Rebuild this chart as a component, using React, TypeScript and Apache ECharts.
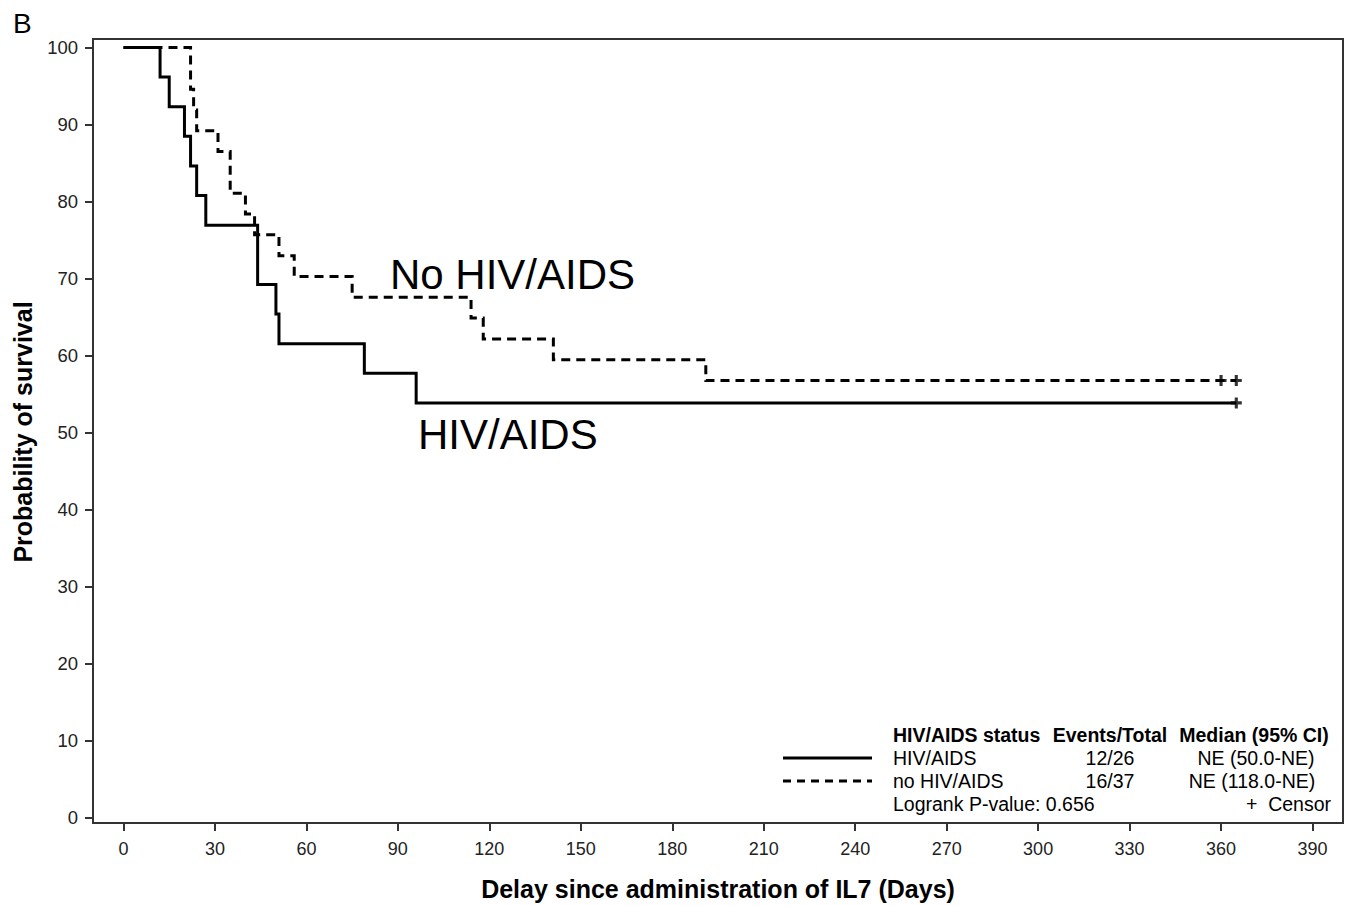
import React, { useEffect, useRef } from "react";
import * as echarts from "echarts";

// Kaplan-Meier survival curves
const hivTimes = [0, 12, 15, 20, 22, 24, 27, 44, 50, 51, 79, 96, 365];
const hivSurv = [100, 96.15, 92.31, 88.46, 84.62, 80.77, 76.92, 69.23, 65.38, 61.54, 57.69, 53.85, 53.85];
const noHivTimes = [0, 22, 23, 24, 31, 35, 40, 43, 51, 56, 75, 114, 118, 141, 191, 365];
const noHivSurv = [100, 94.59, 91.89, 89.19, 86.49, 81.08, 78.38, 75.68, 72.97, 70.27, 67.57, 64.86, 62.16, 59.46, 56.76, 56.76];
const hivCensor = [[365, 53.85]];
const noHivCensor = [[360, 56.76], [365, 56.76]];

const xTicks = [0, 30, 60, 90, 120, 150, 180, 210, 240, 270, 300, 330, 360, 390];
const yTicks = [0, 10, 20, 30, 40, 50, 60, 70, 80, 90, 100];

const legendHeader = ["HIV/AIDS status", "Events/Total", "Median (95% CI)"];
const legendRows = [
  ["HIV/AIDS", "12/26", "NE (50.0-NE)"],
  ["no HIV/AIDS", "16/37", "NE (118.0-NE)"],
];
const logrankText = "Logrank P-value: 0.656";
const censorText = "+  Censor";

const FONT = '"Liberation Sans", Arial, Helvetica, sans-serif';
const PLUS = "path://M-1.7,-6 L1.7,-6 L1.7,-1.7 L6,-1.7 L6,1.7 L1.7,1.7 L1.7,6 L-1.7,6 L-1.7,1.7 L-6,1.7 L-6,-1.7 L-1.7,-1.7 Z";

export default function App() {
  const ref = useRef<HTMLDivElement>(null);
  useEffect(() => {
    if (!ref.current) return;
    const chart = echarts.init(ref.current, null, { renderer: "svg" });
    const zip = (t: number[], s: number[]) => t.map((v, i) => [v, s[i]]);
    const legFont = (bold: boolean) => `${bold ? "bold " : ""}19.5px ${FONT}`;
    const txt = (text: string, x: number, y: number, bold: boolean, align = "left") => ({
      type: "text",
      x,
      y,
      style: { text, font: legFont(bold), fill: "#000", textAlign: align, verticalAlign: "middle" },
    });
    chart.setOption({
      animation: false,
      backgroundColor: "#fff",
      grid: {
        left: 93,
        top: 39,
        width: 1250,
        height: 784,
        show: true,
        borderColor: "#333",
        borderWidth: 2,
        containLabel: false,
      },
      xAxis: {
        type: "value",
        min: -10,
        max: 400,
        splitLine: { show: false },
        axisLine: { show: false, onZero: false },
        axisTick: { show: true, customValues: xTicks, length: 8, inside: false, lineStyle: { color: "#333", width: 2 } },
        axisLabel: { customValues: xTicks, margin: 17, fontSize: 18, color: "#222", fontFamily: FONT },
      },
      yAxis: {
        type: "value",
        min: -0.7,
        max: 101.1,
        splitLine: { show: false },
        axisLine: { show: false, onZero: false },
        axisTick: { show: true, customValues: yTicks, length: 8, inside: false, lineStyle: { color: "#333", width: 2 } },
        axisLabel: { customValues: yTicks, margin: 15, fontSize: 18.5, color: "#222", fontFamily: FONT },
      },
      series: [
        {
          name: "no HIV/AIDS",
          type: "line",
          step: "end",
          showSymbol: false,
          data: zip(noHivTimes, noHivSurv),
          lineStyle: { color: "#000", width: 3, type: [9, 6], cap: "butt", join: "miter" },
          z: 2,
        },
        {
          name: "HIV/AIDS",
          type: "line",
          step: "end",
          showSymbol: false,
          data: zip(hivTimes, hivSurv),
          lineStyle: { color: "#000", width: 3, type: "solid", cap: "butt", join: "miter" },
          z: 3,
        },
        {
          name: "Censor",
          type: "scatter",
          symbol: PLUS,
          symbolSize: 11,
          data: [...noHivCensor, ...hivCensor],
          itemStyle: { color: "#000" },
          z: 4,
        },
      ],
      graphic: [
        { type: "text", x: 13, y: 23, style: { text: "B", font: `28px ${FONT}`, fill: "#000", verticalAlign: "middle" } },
        { type: "text", x: 390, y: 274, style: { text: "No HIV/AIDS", font: `42px ${FONT}`, fill: "#000", verticalAlign: "middle" } },
        { type: "text", x: 418, y: 434, style: { text: "HIV/AIDS", font: `42px ${FONT}`, fill: "#000", verticalAlign: "middle" } },
        {
          type: "text",
          x: 718,
          y: 889,
          style: { text: "Delay since administration of IL7 (Days)", font: `bold 25px ${FONT}`, fill: "#000", textAlign: "center", verticalAlign: "middle" },
        },
        {
          type: "text",
          x: 23,
          y: 432,
          rotation: Math.PI / 2,
          style: { text: "Probability of survival", font: `bold 25px ${FONT}`, fill: "#000", textAlign: "center", verticalAlign: "middle" },
        },
        // legend
        { type: "line", shape: { x1: 783, y1: 758, x2: 872, y2: 758 }, style: { stroke: "#000", lineWidth: 3 } },
        { type: "line", shape: { x1: 783, y1: 781, x2: 872, y2: 781 }, style: { stroke: "#000", lineWidth: 3, lineDash: [8, 6] } },
        txt(legendHeader[0], 893, 735, true),
        txt(legendHeader[1], 1110, 735, true, "center"),
        txt(legendHeader[2], 1254, 735, true, "center"),
        txt(legendRows[0][0], 893, 758, false),
        txt(legendRows[0][1], 1110, 758, false, "center"),
        txt(legendRows[0][2], 1256, 758, false, "center"),
        txt(legendRows[1][0], 893, 781, false),
        txt(legendRows[1][1], 1110, 781, false, "center"),
        txt(legendRows[1][2], 1252, 781, false, "center"),
        txt(logrankText, 893, 804, false),
        txt(censorText, 1331, 804, false, "right"),
      ],
    });
    return () => chart.dispose();
  }, []);
  return (
    <div
      ref={ref}
      style={{ position: "fixed", left: 0, top: 0, width: 1345, height: 906, background: "#fff" }}
    />
  );
}
